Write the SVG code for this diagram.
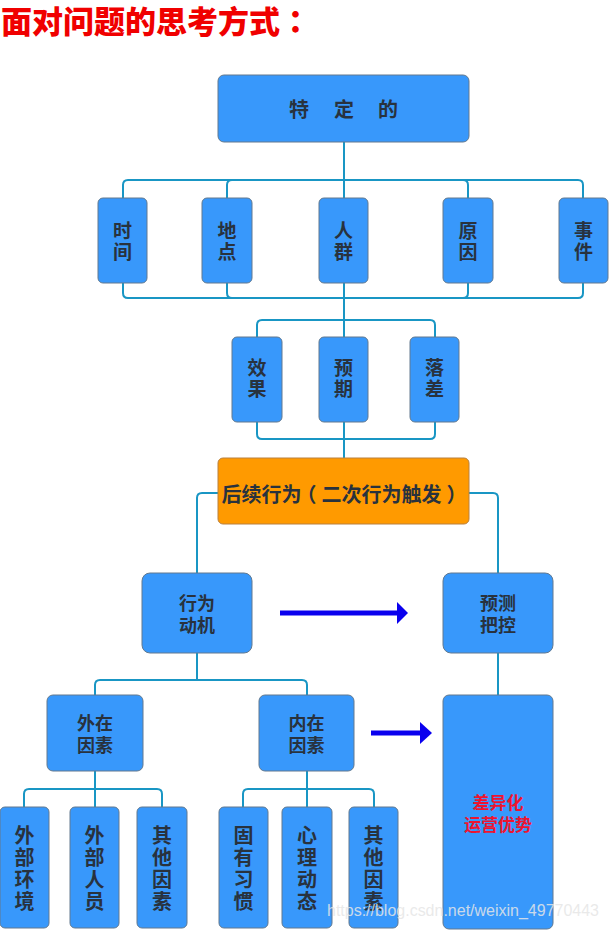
<svg xmlns="http://www.w3.org/2000/svg" width="609" height="930" viewBox="0 0 609 930">
<style>
.n{fill:#3898fb;stroke:#62798f;stroke-width:1}
.o{fill:#ff9a00;stroke:#b9803f;stroke-width:1}
.t{font-family:"Noto Sans CJK SC","Noto Sans",sans-serif;font-weight:bold;fill:#28323e;text-anchor:middle}
.c{fill:none;stroke:#1996c4;stroke-width:2}
.a{fill:#0a00ee}
.tc{font-family:"Noto Sans CJK TC",sans-serif}
</style>
<rect width="609" height="930" fill="#ffffff"/>
<text x="1" y="33" font-family="'Noto Sans CJK SC',sans-serif" font-weight="900" font-size="31" fill="#f00000">面对问题的思考方式<tspan class="tc">：</tspan></text>

<g id="connectors">
<path class="c" d="M344,142 V180 M344,180 H128 Q123,180 123,185 V198 M344,180 H232 Q227,180 227,185 V198 M344,180 V198 M344,180 H463 Q468,180 468,185 V198 M344,180 H578 Q583,180 583,185 V198"/>
<path class="c" d="M123,283 V293 Q123,298 128,298 H344 M227,283 V293 Q227,298 232,298 H344 M344,283 V337 M468,283 V293 Q468,298 463,298 H344 M583,283 V293 Q583,298 578,298 H344"/>
<path class="c" d="M344,320 H262 Q257,320 257,325 V337 M344,320 H430 Q435,320 435,325 V337"/>
<path class="c" d="M257,422 V434 Q257,439 262,439 H344 M344,422 V458 M435,422 V434 Q435,439 430,439 H344"/>
<path class="c" d="M218,493 H202 Q197,493 197,498 V573 M469,493 H493 Q498,493 498,498 V573"/>
<path class="c" d="M197,653 V680 M197,680 H100 Q95,680 95,685 V695 M197,680 H302 Q307,680 307,685 V695 M498,653 V695"/>
<path class="c" d="M95,771 V807 M95,789 H29 Q24,789 24,794 V807 M95,789 H157 Q162,789 162,794 V807"/>
<path class="c" d="M307,771 V807 M307,789 H248 Q243,789 243,794 V807 M307,789 H369 Q374,789 374,794 V807"/>
<g id="arrow1"><rect class="a" x="280" y="610.5" width="118" height="5"/><polygon class="a" points="397,602 408,613 397,624"/></g>
<g id="arrow2"><rect class="a" x="371" y="730.5" width="50" height="5"/><polygon class="a" points="420,722 432,733 420,744"/></g>
</g>

<g id="n-top"><rect class="n" x="218" y="75" width="251" height="67" rx="6"/><text class="t" font-size="20" y="117"><tspan x="299">特</tspan><tspan x="344">定</tspan><tspan x="388">的</tspan></text></g>

<g id="n-shijian"><rect class="n" x="98" y="198" width="49" height="85" rx="5"/><text class="t" font-size="19" x="122.5" y="238">时<tspan x="122.5" y="259">间</tspan></text></g>
<g id="n-didian"><rect class="n" x="202" y="198" width="50" height="85" rx="5"/><text class="t" font-size="19" x="227" y="238">地<tspan x="227" y="259">点</tspan></text></g>
<g id="n-renqun"><rect class="n" x="319" y="198" width="49" height="85" rx="5"/><text class="t" font-size="19" x="343.5" y="238">人<tspan x="343.5" y="259">群</tspan></text></g>
<g id="n-yuanyin"><rect class="n" x="443" y="198" width="50" height="85" rx="5"/><text class="t" font-size="19" x="468" y="238">原<tspan x="468" y="259">因</tspan></text></g>
<g id="n-shijian2"><rect class="n" x="559" y="198" width="49" height="85" rx="5"/><text class="t" font-size="19" x="583.5" y="238">事<tspan x="583.5" y="259">件</tspan></text></g>

<g id="n-xiaoguo"><rect class="n" x="232" y="337" width="50" height="85" rx="5"/><text class="t" font-size="19" x="257" y="375">效<tspan x="257" y="396">果</tspan></text></g>
<g id="n-yuqi"><rect class="n" x="319" y="337" width="49" height="85" rx="5"/><text class="t" font-size="19" x="343.5" y="375">预<tspan x="343.5" y="396">期</tspan></text></g>
<g id="n-luocha"><rect class="n" x="410" y="337" width="49" height="85" rx="5"/><text class="t" font-size="19" x="434.5" y="375">落<tspan x="434.5" y="396">差</tspan></text></g>

<g id="n-houxu"><rect class="o" x="218" y="458" width="251" height="66" rx="5"/><text class="t" font-size="20" x="344" y="502">后续行为<tspan dx="-5">（</tspan><tspan dx="5">二次行为触发</tspan><tspan dx="5">）</tspan></text></g>

<g id="n-dongji"><rect class="n" x="142" y="573" width="110" height="80" rx="8"/><text class="t" font-size="18" x="197" y="610">行为<tspan x="197" y="632">动机</tspan></text></g>
<g id="n-yuce"><rect class="n" x="443" y="573" width="110" height="80" rx="8"/><text class="t" font-size="18" x="498" y="610">预测<tspan x="498" y="632">把控</tspan></text></g>

<g id="n-waizai"><rect class="n" x="47" y="695" width="96" height="76" rx="6"/><text class="t" font-size="18" x="95" y="730">外在<tspan x="95" y="752">因素</tspan></text></g>
<g id="n-neizai"><rect class="n" x="259" y="695" width="95" height="76" rx="6"/><text class="t" font-size="18" x="306.5" y="730">内在<tspan x="306.5" y="752">因素</tspan></text></g>
<g id="n-youshi"><rect class="n" x="443" y="695" width="110" height="234" rx="6"/><text class="t" font-size="17" x="498" y="809" style="fill:#ee1430">差异化<tspan x="498" y="831">运营优势</tspan></text></g>

<g id="n-l1"><rect class="n" x="0" y="807" width="49" height="121" rx="5"/><text class="t" font-size="20" x="24.5" y="843">外<tspan x="24.5" y="865">部</tspan><tspan x="24.5" y="887">环</tspan><tspan x="24.5" y="909">境</tspan></text></g>
<g id="n-l2"><rect class="n" x="70" y="807" width="49" height="121" rx="5"/><text class="t" font-size="20" x="94.5" y="843">外<tspan x="94.5" y="865">部</tspan><tspan x="94.5" y="887">人</tspan><tspan x="94.5" y="909">员</tspan></text></g>
<g id="n-l3"><rect class="n" x="137" y="807" width="50" height="121" rx="5"/><text class="t" font-size="20" x="162" y="843">其<tspan x="162" y="865">他</tspan><tspan x="162" y="887">因</tspan><tspan x="162" y="909">素</tspan></text></g>
<g id="n-l4"><rect class="n" x="219" y="807" width="49" height="121" rx="5"/><text class="t" font-size="20" x="243.5" y="843">固<tspan x="243.5" y="865">有</tspan><tspan x="243.5" y="887">习</tspan><tspan x="243.5" y="909">惯</tspan></text></g>
<g id="n-l5"><rect class="n" x="282" y="807" width="50" height="121" rx="5"/><text class="t" font-size="20" x="307" y="843">心<tspan x="307" y="865">理</tspan><tspan x="307" y="887">动</tspan><tspan x="307" y="909">态</tspan></text></g>
<g id="n-l6"><rect class="n" x="349" y="807" width="49" height="121" rx="5"/><text class="t" font-size="20" x="373.5" y="843">其<tspan x="373.5" y="865">他</tspan><tspan x="373.5" y="887">因</tspan><tspan x="373.5" y="909">素</tspan></text></g>

<text x="327" y="916" font-family="'Liberation Sans',Arial,sans-serif" font-size="16" fill="#e6e6e6" fill-opacity="0.85" textLength="272">https://blog.csdn.net/weixin_49770443</text>
</svg>
